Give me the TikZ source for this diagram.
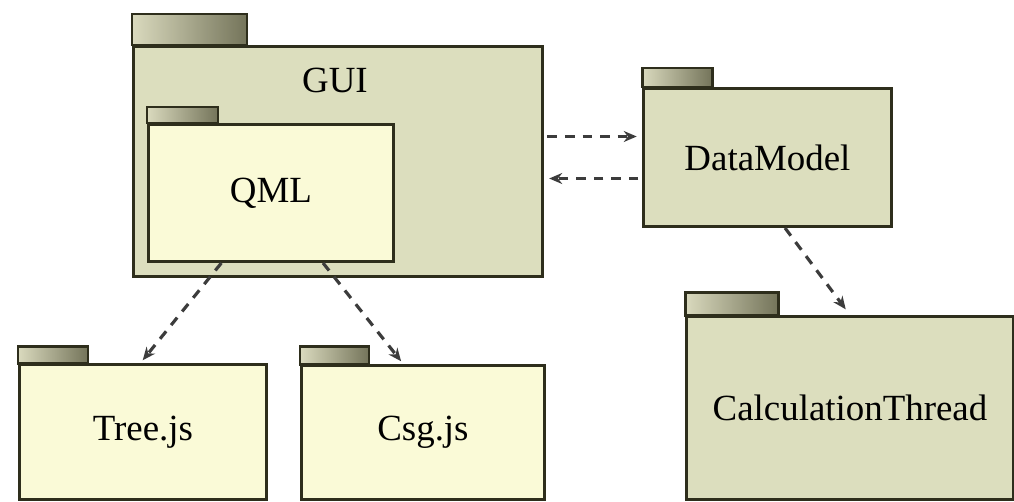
\documentclass[tikz,border=0pt]{standalone}
\usepackage{fontspec}
\setmainfont{Liberation Serif}
\usetikzlibrary{arrows.meta,calc}
\definecolor{pkgline}{HTML}{2E2E1C}
\definecolor{pkgkhaki}{HTML}{DCDEBE}
\definecolor{pkgpale}{HTML}{FAFAD7}
\definecolor{tabdark}{HTML}{74745A}
\definecolor{tablight}{HTML}{DADABE}
\definecolor{depline}{HTML}{3C3C3C}

\begin{document}
\begin{tikzpicture}[x=0.02cm, y=-0.02cm,
  pkg/.style={rectangle, draw=pkgline, line width=1.7pt, anchor=north west,
              inner sep=0pt, font=\fontsize{21}{25}\selectfont},
  outerpkg/.style={pkg, fill=pkgkhaki},
  innerpkg/.style={pkg, fill=pkgpale},
  pkgtab/.style={draw=pkgline, line width=1.7pt, left color=tablight, right color=tabdark},
  dep/.style={depline, line width=1.8pt, dash pattern=on 5.5pt off 4.5pt,
              -{Stealth[length=2.6mm, width=2.2mm]}},
  title/.style={font=\fontsize{21}{25}\selectfont},
]

\useasboundingbox (0,0) rectangle (1014,501);

% packages
\node[outerpkg, minimum width=8.18cm, minimum height=4.6cm] (gui) at (132,45) {};
\draw[pkgtab] (gui.north west) rectangle ++(115,-31);
\node[title] (guiname) at (335,80) {GUI};

\node[innerpkg, minimum width=4.9cm, minimum height=2.74cm] (qml) at (147,123) {QML};
\draw[pkgtab] (qml.north west) rectangle ++(71,-16);

\node[outerpkg, minimum width=4.96cm, minimum height=2.76cm] (dm) at (642,87) {DataModel};
\draw[pkgtab] (dm.north west) rectangle ++(70,-19);

\node[outerpkg, minimum width=6.54cm, minimum height=3.66cm] (calcthread) at (685,315) {CalculationThread};
\draw[pkgtab] (calcthread.north west) rectangle ++(93,-23);

\node[innerpkg, minimum width=4.94cm, minimum height=2.7cm] (tree) at (18,363) {Tree.js};
\draw[pkgtab] (tree.north west) rectangle ++(70,-17);

\node[innerpkg, minimum width=4.86cm, minimum height=2.68cm] (csg) at (300,364) {Csg.js};
\draw[pkgtab] (csg.north west) rectangle ++(69,-18);

% dependencies
\coordinate (dmhi) at ($(dm.west)+(0,-21)$);
\coordinate (dmlo) at ($(dm.west)+(0,21)$);

\draw[dep, shorten >=2pt] ($(qml.south west)!0.3!(qml.south east)$) -- ($(tree.north west)!0.49!(tree.north east)$);
\draw[dep, shorten >=2pt] ($(qml.south west)!0.71!(qml.south east)$) -- ($(csg.north west)!0.42!(csg.north east)$);
\draw[dep, shorten <=2pt, shorten >=3pt] (gui.east |- dmhi) -- (dmhi);
\draw[dep, shorten <=2pt, shorten >=3pt] (dmlo) -- (gui.east |- dmlo);
\draw[dep, shorten >=4pt] ($(dm.south west)!0.57!(dm.south east)$) -- (calcthread.north);

\end{tikzpicture}
\end{document}
